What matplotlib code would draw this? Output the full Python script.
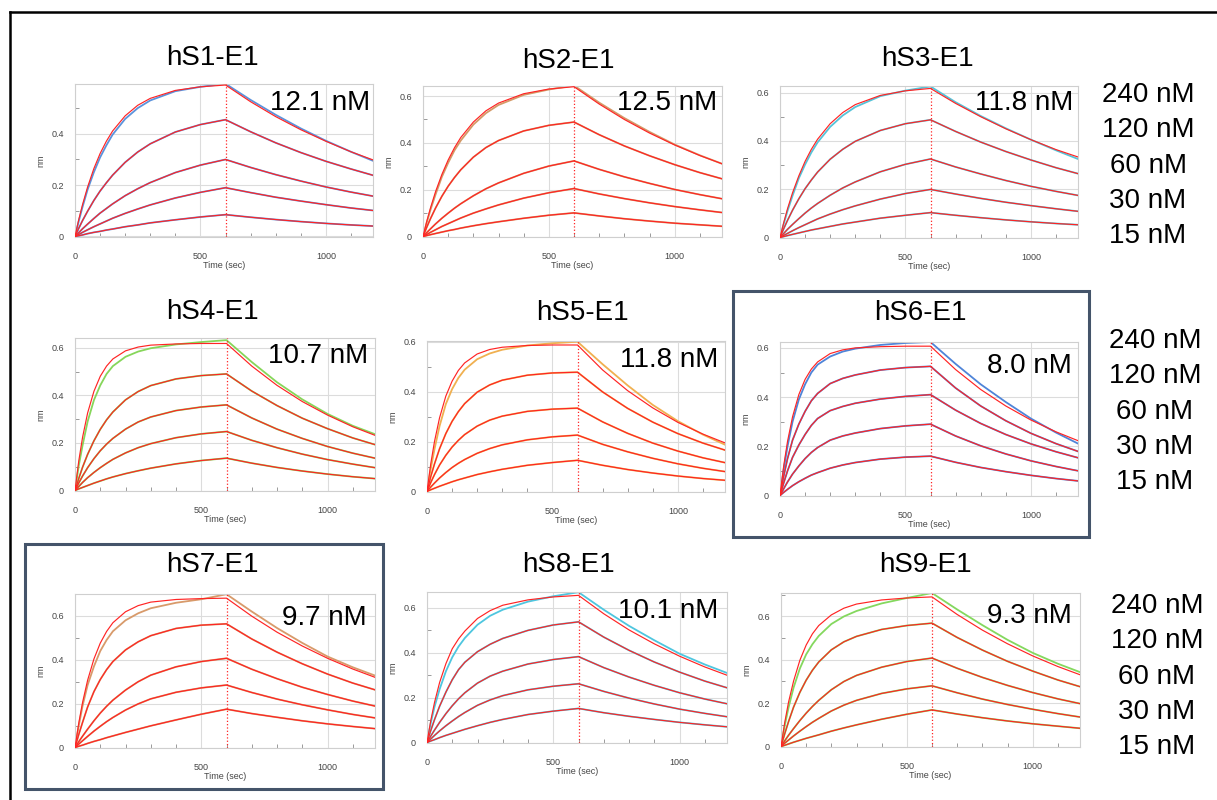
import matplotlib
matplotlib.use("Agg")
import matplotlib.pyplot as plt
from matplotlib.lines import Line2D
from matplotlib.patches import Rectangle
from matplotlib.ticker import MultipleLocator

plt.rcParams['font.family'] = ['Liberation Sans', 'DejaVu Sans']

W, H = 1217, 800

# sample times (sec), association 0-600, dissociation 600-1200
time_s = [0, 15, 30, 50, 75, 100, 125, 150, 200, 250, 300, 400, 500, 600,
          700, 800, 900, 1000, 1100, 1200]
conc_labels = ['240 nM', '120 nM', '60 nM', '30 nM', '15 nM']
panel_names = ['hS1-E1', 'hS2-E1', 'hS3-E1', 'hS4-E1', 'hS5-E1',
               'hS6-E1', 'hS7-E1', 'hS8-E1', 'hS9-E1']
kd_labels = ['12.1 nM', '12.5 nM', '11.8 nM', '10.7 nM', '11.8 nM',
             '8.0 nM', '9.7 nM', '10.1 nM', '9.3 nM']
data_colors = ['#5b93dc', '#d49a68', '#56c3d8', '#86d65a', '#f0b050',
               '#4f84d8', '#d89a6a', '#4ec6df', '#84d85e']

# fitted responses (nm), rows = 240, 120, 60, 30, 15 nM
hs1_fit = [
    [0, 0.066, 0.124, 0.192, 0.264, 0.323, 0.371, 0.411, 0.470, 0.511, 0.538, 0.569, 0.583, 0.590, 0.525, 0.467, 0.416, 0.371, 0.330, 0.294],
    [0, 0.032, 0.062, 0.098, 0.140, 0.177, 0.209, 0.239, 0.289, 0.329, 0.361, 0.407, 0.436, 0.455, 0.408, 0.365, 0.327, 0.293, 0.263, 0.235],
    [0, 0.015, 0.030, 0.048, 0.070, 0.091, 0.109, 0.127, 0.159, 0.186, 0.210, 0.249, 0.278, 0.300, 0.269, 0.241, 0.216, 0.193, 0.173, 0.155],
    [0, 0.008, 0.016, 0.026, 0.038, 0.049, 0.060, 0.071, 0.090, 0.107, 0.123, 0.150, 0.172, 0.190, 0.171, 0.153, 0.138, 0.124, 0.111, 0.100],
    [0, 0.003, 0.006, 0.011, 0.016, 0.020, 0.025, 0.029, 0.038, 0.045, 0.053, 0.065, 0.076, 0.085, 0.075, 0.066, 0.058, 0.051, 0.045, 0.040],
]
hs2_fit = [
    [0, 0.065, 0.123, 0.192, 0.265, 0.327, 0.379, 0.423, 0.489, 0.537, 0.570, 0.610, 0.630, 0.640, 0.566, 0.500, 0.442, 0.391, 0.346, 0.306],
    [0, 0.040, 0.077, 0.122, 0.172, 0.215, 0.252, 0.285, 0.339, 0.380, 0.410, 0.451, 0.475, 0.489, 0.435, 0.387, 0.345, 0.307, 0.273, 0.243],
    [0, 0.017, 0.033, 0.054, 0.078, 0.100, 0.121, 0.140, 0.174, 0.204, 0.229, 0.270, 0.301, 0.323, 0.287, 0.255, 0.227, 0.201, 0.179, 0.159],
    [0, 0.009, 0.018, 0.029, 0.043, 0.055, 0.067, 0.079, 0.100, 0.118, 0.135, 0.164, 0.187, 0.205, 0.182, 0.162, 0.144, 0.128, 0.114, 0.101],
    [0, 0.004, 0.008, 0.013, 0.019, 0.025, 0.030, 0.036, 0.046, 0.055, 0.063, 0.078, 0.091, 0.101, 0.088, 0.076, 0.066, 0.057, 0.050, 0.043],
]
hs3_fit = [
    [0, 0.062, 0.119, 0.185, 0.255, 0.315, 0.365, 0.407, 0.471, 0.517, 0.550, 0.588, 0.607, 0.617, 0.555, 0.500, 0.450, 0.405, 0.364, 0.329],
    [0, 0.037, 0.071, 0.113, 0.160, 0.202, 0.238, 0.271, 0.324, 0.365, 0.398, 0.443, 0.471, 0.487, 0.439, 0.395, 0.356, 0.321, 0.289, 0.261],
    [0, 0.017, 0.034, 0.054, 0.078, 0.101, 0.122, 0.141, 0.175, 0.205, 0.230, 0.272, 0.303, 0.325, 0.292, 0.263, 0.236, 0.212, 0.191, 0.172],
    [0, 0.009, 0.017, 0.028, 0.041, 0.053, 0.065, 0.077, 0.097, 0.115, 0.131, 0.159, 0.182, 0.199, 0.180, 0.162, 0.146, 0.132, 0.119, 0.107],
    [0, 0.004, 0.008, 0.013, 0.019, 0.025, 0.031, 0.036, 0.046, 0.056, 0.064, 0.080, 0.092, 0.103, 0.092, 0.082, 0.073, 0.065, 0.058, 0.052],
]
hs4_fit = [
    [0, 0.125, 0.224, 0.326, 0.417, 0.480, 0.523, 0.553, 0.587, 0.603, 0.611, 0.616, 0.618, 0.618, 0.523, 0.442, 0.374, 0.317, 0.268, 0.227],
    [0, 0.051, 0.098, 0.152, 0.209, 0.257, 0.297, 0.330, 0.381, 0.416, 0.441, 0.469, 0.483, 0.490, 0.418, 0.357, 0.304, 0.260, 0.221, 0.189],
    [0, 0.032, 0.061, 0.096, 0.134, 0.167, 0.195, 0.219, 0.258, 0.288, 0.309, 0.336, 0.351, 0.360, 0.305, 0.258, 0.219, 0.185, 0.157, 0.133],
    [0, 0.017, 0.034, 0.054, 0.076, 0.096, 0.114, 0.131, 0.158, 0.180, 0.197, 0.222, 0.238, 0.248, 0.211, 0.180, 0.153, 0.130, 0.111, 0.094],
    [0, 0.007, 0.013, 0.021, 0.031, 0.040, 0.049, 0.057, 0.071, 0.083, 0.094, 0.112, 0.126, 0.136, 0.115, 0.097, 0.082, 0.069, 0.058, 0.049],
]
hs5_fit = [
    [0, 0.111, 0.201, 0.295, 0.382, 0.442, 0.485, 0.515, 0.551, 0.569, 0.578, 0.585, 0.587, 0.587, 0.487, 0.404, 0.335, 0.277, 0.230, 0.190],
    [0, 0.060, 0.111, 0.171, 0.232, 0.281, 0.320, 0.352, 0.398, 0.427, 0.446, 0.466, 0.475, 0.478, 0.399, 0.333, 0.278, 0.232, 0.194, 0.162],
    [0, 0.036, 0.068, 0.106, 0.145, 0.178, 0.205, 0.228, 0.262, 0.286, 0.302, 0.321, 0.330, 0.334, 0.279, 0.233, 0.194, 0.162, 0.135, 0.113],
    [0, 0.018, 0.034, 0.054, 0.076, 0.096, 0.113, 0.128, 0.153, 0.172, 0.187, 0.207, 0.219, 0.226, 0.189, 0.159, 0.133, 0.111, 0.093, 0.078],
    [0, 0.007, 0.013, 0.021, 0.030, 0.039, 0.047, 0.054, 0.068, 0.079, 0.089, 0.105, 0.116, 0.125, 0.105, 0.088, 0.074, 0.062, 0.052, 0.044],
]
hs6_fit = [
    [0, 0.122, 0.220, 0.320, 0.410, 0.472, 0.514, 0.543, 0.577, 0.592, 0.600, 0.605, 0.607, 0.607, 0.512, 0.431, 0.364, 0.307, 0.259, 0.218],
    [0, 0.080, 0.150, 0.225, 0.290, 0.342, 0.385, 0.415, 0.455, 0.476, 0.490, 0.510, 0.520, 0.525, 0.437, 0.364, 0.304, 0.253, 0.211, 0.175],
    [0, 0.052, 0.100, 0.155, 0.205, 0.248, 0.285, 0.313, 0.345, 0.362, 0.375, 0.392, 0.403, 0.410, 0.347, 0.293, 0.248, 0.210, 0.178, 0.150],
    [0, 0.028, 0.055, 0.087, 0.120, 0.150, 0.175, 0.195, 0.225, 0.242, 0.254, 0.272, 0.283, 0.290, 0.242, 0.202, 0.169, 0.141, 0.118, 0.098],
    [0, 0.013, 0.025, 0.040, 0.056, 0.070, 0.083, 0.093, 0.111, 0.124, 0.134, 0.148, 0.156, 0.160, 0.135, 0.114, 0.097, 0.082, 0.069, 0.058],
]
hs7_fit = [
    [0, 0.112, 0.206, 0.307, 0.404, 0.476, 0.529, 0.569, 0.619, 0.647, 0.663, 0.675, 0.679, 0.681, 0.599, 0.526, 0.463, 0.407, 0.358, 0.315],
    [0, 0.060, 0.115, 0.185, 0.255, 0.310, 0.355, 0.392, 0.445, 0.482, 0.510, 0.543, 0.558, 0.564, 0.495, 0.435, 0.382, 0.335, 0.294, 0.259],
    [0, 0.027, 0.052, 0.084, 0.122, 0.157, 0.188, 0.216, 0.262, 0.300, 0.330, 0.368, 0.392, 0.407, 0.357, 0.314, 0.275, 0.242, 0.212, 0.186],
    [0, 0.016, 0.031, 0.051, 0.075, 0.097, 0.118, 0.137, 0.171, 0.199, 0.222, 0.252, 0.272, 0.285, 0.251, 0.221, 0.195, 0.172, 0.151, 0.133],
    [0, 0.006, 0.011, 0.019, 0.028, 0.036, 0.045, 0.053, 0.069, 0.084, 0.099, 0.126, 0.152, 0.175, 0.155, 0.138, 0.122, 0.108, 0.096, 0.085],
]
hs8_fit = [
    [0, 0.098, 0.180, 0.268, 0.352, 0.418, 0.462, 0.497, 0.553, 0.588, 0.612, 0.636, 0.649, 0.656, 0.574, 0.502, 0.440, 0.385, 0.337, 0.295],
    [0, 0.054, 0.103, 0.162, 0.225, 0.280, 0.325, 0.358, 0.405, 0.438, 0.464, 0.500, 0.524, 0.538, 0.470, 0.411, 0.359, 0.314, 0.274, 0.240],
    [0, 0.029, 0.056, 0.090, 0.129, 0.164, 0.195, 0.222, 0.265, 0.296, 0.318, 0.350, 0.370, 0.383, 0.334, 0.292, 0.255, 0.222, 0.194, 0.170],
    [0, 0.016, 0.032, 0.052, 0.075, 0.096, 0.116, 0.134, 0.166, 0.190, 0.209, 0.235, 0.251, 0.262, 0.228, 0.198, 0.172, 0.149, 0.130, 0.113],
    [0, 0.007, 0.013, 0.022, 0.032, 0.041, 0.050, 0.059, 0.075, 0.090, 0.103, 0.125, 0.140, 0.152, 0.133, 0.117, 0.103, 0.090, 0.079, 0.069],
]
hs9_fit = [
    [0, 0.112, 0.205, 0.302, 0.398, 0.468, 0.520, 0.558, 0.607, 0.638, 0.657, 0.676, 0.685, 0.690, 0.609, 0.537, 0.474, 0.418, 0.369, 0.326],
    [0, 0.060, 0.115, 0.182, 0.250, 0.306, 0.352, 0.390, 0.446, 0.483, 0.508, 0.540, 0.558, 0.569, 0.503, 0.445, 0.393, 0.348, 0.307, 0.272],
    [0, 0.027, 0.052, 0.083, 0.120, 0.154, 0.185, 0.213, 0.262, 0.300, 0.328, 0.366, 0.392, 0.408, 0.361, 0.319, 0.282, 0.249, 0.220, 0.195],
    [0, 0.016, 0.030, 0.049, 0.071, 0.092, 0.112, 0.130, 0.164, 0.191, 0.213, 0.245, 0.266, 0.280, 0.248, 0.219, 0.194, 0.172, 0.152, 0.134],
    [0, 0.006, 0.012, 0.020, 0.029, 0.038, 0.046, 0.054, 0.071, 0.086, 0.100, 0.126, 0.149, 0.169, 0.150, 0.133, 0.118, 0.105, 0.094, 0.083],
]

# measured response of the 240 nM trace (where it departs from the fit)
hs1_top = [0, 0.060, 0.115, 0.182, 0.250, 0.308, 0.355, 0.397, 0.458, 0.500, 0.530, 0.566, 0.583, 0.595, 0.532, 0.474, 0.421, 0.373, 0.330, 0.290]
hs2_top = [0, 0.060, 0.115, 0.180, 0.255, 0.315, 0.368, 0.410, 0.478, 0.527, 0.562, 0.605, 0.628, 0.645, 0.572, 0.506, 0.447, 0.393, 0.347, 0.306]
hs3_top = [0, 0.057, 0.110, 0.173, 0.245, 0.302, 0.352, 0.394, 0.458, 0.505, 0.540, 0.585, 0.608, 0.625, 0.560, 0.503, 0.452, 0.405, 0.361, 0.320]
hs4_top = [0, 0.105, 0.190, 0.290, 0.380, 0.442, 0.490, 0.523, 0.562, 0.584, 0.598, 0.614, 0.624, 0.632, 0.540, 0.455, 0.383, 0.322, 0.272, 0.232]
hs5_top = [0, 0.092, 0.170, 0.262, 0.350, 0.410, 0.455, 0.488, 0.530, 0.553, 0.568, 0.585, 0.594, 0.600, 0.510, 0.425, 0.347, 0.282, 0.228, 0.182]
hs6_top = [0, 0.108, 0.200, 0.300, 0.390, 0.452, 0.500, 0.532, 0.565, 0.585, 0.597, 0.612, 0.620, 0.624, 0.535, 0.452, 0.380, 0.313, 0.256, 0.205]
hs7_top = [0, 0.100, 0.190, 0.285, 0.370, 0.440, 0.490, 0.530, 0.580, 0.612, 0.635, 0.660, 0.676, 0.699, 0.620, 0.545, 0.477, 0.415, 0.366, 0.323]
hs8_top = [0, 0.088, 0.160, 0.238, 0.318, 0.380, 0.428, 0.466, 0.525, 0.565, 0.592, 0.628, 0.652, 0.670, 0.592, 0.520, 0.456, 0.396, 0.348, 0.305]
hs9_top = [0, 0.098, 0.180, 0.272, 0.360, 0.425, 0.472, 0.510, 0.565, 0.600, 0.625, 0.660, 0.685, 0.708, 0.632, 0.560, 0.492, 0.432, 0.382, 0.338]

fits = [hs1_fit, hs2_fit, hs3_fit, hs4_fit, hs5_fit, hs6_fit, hs7_fit, hs8_fit, hs9_fit]
tops = [hs1_top, hs2_top, hs3_top, hs4_top, hs5_top, hs6_top, hs7_top, hs8_top, hs9_top]

# layout in pixels: axes (left, top, right, bottom)
boxes = [(75, 84, 373, 237), (423, 86, 722, 237), (780, 86, 1078, 238),
         (75, 338, 375, 491), (427, 341, 725, 492), (780, 342, 1078, 496),
         (75, 594, 375, 748), (427, 592, 727, 743), (781, 593, 1080, 747)]
ymax = [0.594, 0.643, 0.627, 0.641, 0.603, 0.624, 0.70, 0.671, 0.708]
title_pos = [(212, 65), (568, 68), (927, 66), (212, 319), (582, 320), (920, 320),
             (212, 572), (568, 572), (925, 572)]
kd_pos = [(370, 110), (717, 110), (1073, 110), (368, 363), (718, 367), (1072, 373),
          (367, 625), (718, 618), (1072, 623)]
conc_x = [1148, 1155, 1157]
conc_y0 = [102, 348, 613]

fig = plt.figure(figsize=(W / 100, H / 100), dpi=100)


def fx(x):
    return x / W


def fy(y):
    return 1 - y / H


grey = '#454545'
for i in range(9):
    l, t, r, b = boxes[i]
    ax = fig.add_axes([fx(l), fy(b), (r - l) / W, (b - t) / H])
    fit = fits[i]
    for j in range(5):
        meas = tops[i] if j == 0 else fit[j]
        ax.plot(time_s, meas, color=data_colors[i], lw=1.3, zorder=2)
    for j in range(5):
        ax.plot(time_s, fit[j], color='#ff2424', lw=0.85, zorder=3)
    ax.axvline(600, color='#ff2424', ls=':', lw=0.9, zorder=4)

    ax.set_xticks([0, 500, 1000])
    ax.set_yticks([0, 0.2, 0.4, 0.6])
    ax.set_yticklabels(['0', '0.2', '0.4', '0.6'])
    ax.set_xlim(0, 1188)
    ax.set_ylim(-0.002, ymax[i])
    ax.xaxis.set_minor_locator(MultipleLocator(100))
    ax.yaxis.set_minor_locator(MultipleLocator(0.1))
    ax.tick_params(which='major', length=0, labelsize=6.5, labelcolor=grey)
    ax.tick_params(axis='y', which='major', pad=8)
    ax.tick_params(axis='x', which='major', pad=11)
    ax.tick_params(which='minor', direction='in', length=3, color='#8a8a8a', width=0.6)
    ax.grid(True, which='major', color='#dcdcdc', lw=0.8)
    ax.set_axisbelow(True)
    for s in ax.spines.values():
        s.set_color('#cfcfcf')
        s.set_linewidth(0.8)
    ax.set_xlabel('Time (sec)', fontsize=6.5, color=grey, labelpad=0)
    ax.set_ylabel('nm', fontsize=6.5, color=grey, labelpad=4)

    tx, ty = title_pos[i]
    fig.text(fx(tx), fy(ty), panel_names[i], fontsize=20, ha='center', va='baseline')
    kx, ky = kd_pos[i]
    fig.text(fx(kx), fy(ky), kd_labels[i], fontsize=20, ha='right', va='baseline')

# concentration key, one per row
for row in range(3):
    for j, lab in enumerate(conc_labels):
        fig.text(fx(conc_x[row]), fy(conc_y0[row] + j * 35.3), lab,
                 fontsize=20, ha='center', va='baseline')

# highlight boxes around hS6 and hS7
for (l, t, r, b) in [(733, 291, 1089, 537), (25, 544, 383, 789)]:
    fig.add_artist(Rectangle((fx(l), fy(b)), (r - l) / W, (b - t) / H,
                             transform=fig.transFigure, fill=False,
                             ec='#44546a', lw=2.2))

# outer frame (top and left edge)
fig.add_artist(Line2D([fx(9.5), fx(9.5)], [0, fy(12)], color='black', lw=1.8))
fig.add_artist(Line2D([fx(9.5), 1], [fy(12), fy(12)], color='black', lw=1.8))

fig.savefig('out.png', dpi=100)
